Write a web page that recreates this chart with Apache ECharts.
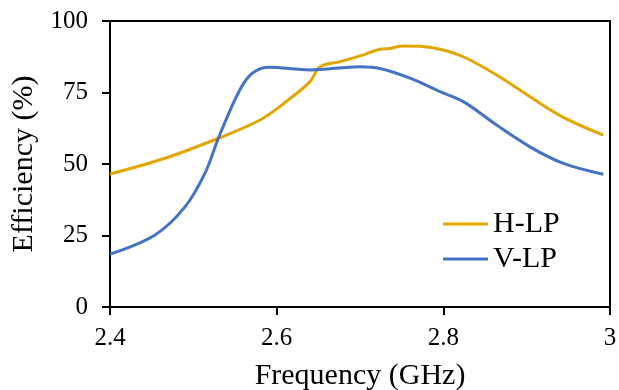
<!DOCTYPE html>
<html>
<head>
<meta charset="utf-8">
<style>
  html, body { margin: 0; padding: 0; background: #fff; }
  #chart { width: 619px; height: 390px; }
</style>
<script src="https://cdn.jsdelivr.net/npm/echarts@6/dist/echarts.min.js"></script>
</head>
<body>
<div id="chart"></div>
<script>
// values
const seriesNames = ['H-LP', 'V-LP']

const freqH = [2.40, 2.466, 2.53, 2.58, 2.61, 2.64, 2.652, 2.676, 2.70, 2.724, 2.736, 2.752, 2.772, 2.796, 2.824, 2.864, 2.904, 2.944, 2.992]
const effH = [46.5, 52.0, 59.0, 65.4, 71.5, 78.8, 84.0, 85.8, 87.8, 90.1, 90.4, 91.3, 91.2, 90.1, 87.5, 81.1, 73.5, 66.3, 60.1]

const freqV = [2.40, 2.454, 2.49, 2.514, 2.53, 2.546, 2.56, 2.572, 2.59, 2.64, 2.70, 2.724, 2.76, 2.796, 2.824, 2.864, 2.904, 2.944, 2.992]
const effV = [18.5, 25.2, 35.0, 46.8, 59.0, 70.0, 78.0, 82.0, 83.8, 82.9, 84.0, 83.4, 80.0, 75.3, 71.8, 63.6, 56.0, 50.2, 46.4]

const xTicks = [2.4, 2.6, 2.8, 3]
const yTicks = [0, 25, 50, 75, 100]

const font = "'Liberation Serif', 'Times New Roman', serif"
const colors = ['#E3A600', '#4472C4']

const zip = (xs, ys) => xs.map((x, i) => [x, ys[i]])

const chart = echarts.init(document.getElementById('chart'), null, { renderer: 'canvas' })

chart.setOption({
  animation: false,
  grid: {
    left: 110,
    right: 9,
    top: 21,
    bottom: 83,
    outerBoundsMode: 'none',
    containLabel: false,
    show: true,
    borderColor: '#000',
    borderWidth: 2
  },
  legend: {
    orient: 'vertical',
    left: 443,
    top: 209,
    padding: 0,
    itemWidth: 45,
    itemHeight: 3,
    itemGap: 5,
    itemTextGap: 1,
    icon: 'rect',
    textStyle: { fontFamily: font, fontSize: 30, color: '#000', lineHeight: 30 },
    data: seriesNames
  },
  xAxis: {
    type: 'value',
    min: xTicks[0],
    max: xTicks[xTicks.length - 1],
    interval: 0.2,
    name: 'Frequency (GHz)',
    nameLocation: 'middle',
    nameGap: 54,
    nameTextStyle: { fontFamily: font, fontSize: 30, color: '#000' },
    axisLine: { lineStyle: { color: '#000', width: 2 } },
    axisTick: { show: true, length: 8, inside: false, lineStyle: { color: '#000', width: 2 } },
    axisLabel: {
      fontFamily: font,
      fontSize: 25,
      color: '#000',
      margin: 19,
      formatter: v => String(+v.toFixed(1))
    },
    splitLine: { show: false }
  },
  yAxis: {
    type: 'value',
    min: yTicks[0],
    max: yTicks[yTicks.length - 1],
    interval: 25,
    name: 'Efficiency (%)',
    nameLocation: 'middle',
    nameGap: 64,
    nameTextStyle: { fontFamily: font, fontSize: 30, color: '#000' },
    axisLine: { show: true, lineStyle: { color: '#000', width: 2 } },
    axisTick: { show: true, length: 8, inside: false, lineStyle: { color: '#000', width: 2 } },
    axisLabel: { fontFamily: font, fontSize: 25, color: '#000', margin: 22 },
    splitLine: { show: false }
  },
  series: [
    {
      name: seriesNames[0],
      type: 'line',
      data: zip(freqH, effH),
      showSymbol: false,
      smooth: 0.35,
      lineStyle: { color: colors[0], width: 3 },
      itemStyle: { color: colors[0] }
    },
    {
      name: seriesNames[1],
      type: 'line',
      data: zip(freqV, effV),
      showSymbol: false,
      smooth: 0.35,
      lineStyle: { color: colors[1], width: 3 },
      itemStyle: { color: colors[1] }
    }
  ]
})
</script>
</body>
</html>
